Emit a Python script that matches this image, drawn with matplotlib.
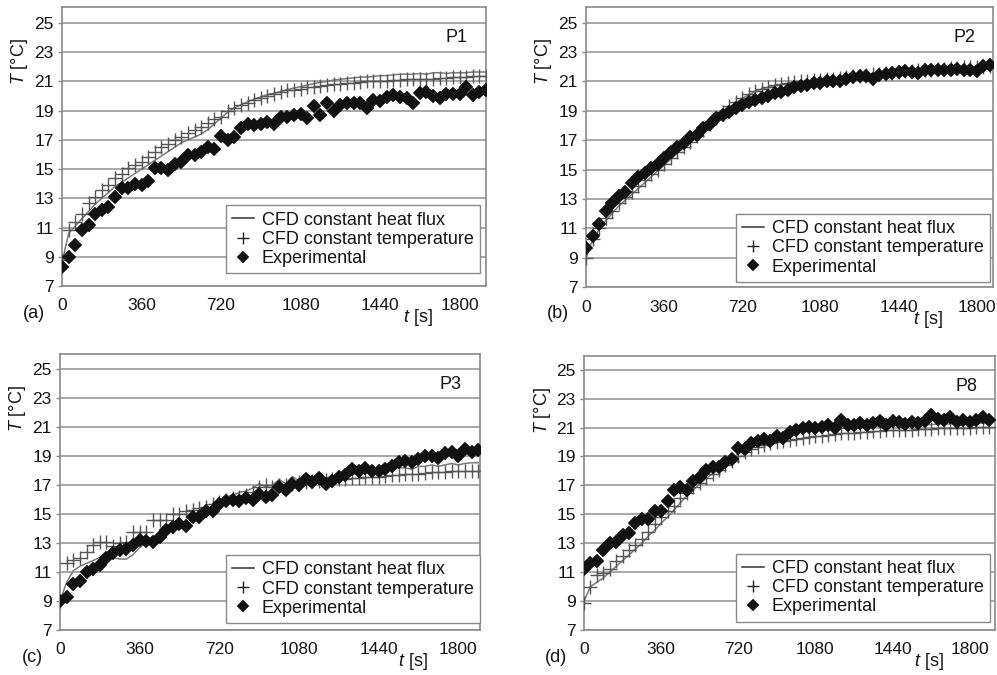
import numpy as np
import matplotlib
matplotlib.use("Agg")
import matplotlib.pyplot as plt

plt.rcParams['font.family'] = ['Liberation Sans', 'DejaVu Sans']
plt.rcParams['mathtext.fontset'] = 'custom'
plt.rcParams['mathtext.it'] = 'Liberation Sans:italic'
plt.rcParams['mathtext.rm'] = 'Liberation Sans'

# ---------------- data (sampled every 30 s) ----------------
dt = 30
x_ticks = [0, 360, 720, 1080, 1440, 1800]
y_ticks = [7, 9, 11, 13, 15, 17, 19, 21, 23, 25]

# P1
p1_flux = [8.6, 10.6, 11.1, 11.6, 12.1, 12.6, 13.0, 13.4, 13.8, 14.1, 14.4, 14.7, 15.0, 15.3, 15.6, 15.9,
           16.2, 16.5, 16.8, 17.0, 17.2, 17.4, 17.7, 18.1, 18.5, 18.9, 19.2, 19.4, 19.6, 19.8, 19.95, 20.1,
           20.2, 20.3, 20.45, 20.55, 20.65, 20.75, 20.85, 20.95, 21.0, 21.1, 21.15, 21.2, 21.25, 21.3, 21.3,
           21.35, 21.4, 21.4, 21.45, 21.5, 21.5, 21.5, 21.55, 21.5, 21.6, 21.6, 21.55, 21.6, 21.6, 21.6,
           21.65, 21.65, 21.65]
p1_temp = [8.8, 10.8, 11.4, 11.9, 12.65, 13.1, 13.6, 13.9, 14.4, 14.7, 15.05, 15.3, 15.5, 15.85, 16.2, 16.5,
           16.7, 17.0, 17.2, 17.45, 17.7, 17.9, 18.15, 18.4, 18.6, 18.95, 19.2, 19.4, 19.55, 19.75, 19.85,
           20.0, 20.15, 20.3, 20.4, 20.45, 20.5, 20.6, 20.65, 20.7, 20.75, 20.8, 20.85, 20.9, 20.9, 20.95,
           21.0, 21.0, 21.05, 21.05, 21.1, 21.1, 21.15, 21.15, 21.2, 21.2, 21.2, 21.25, 21.25, 21.3, 21.3,
           21.3, 21.35, 21.35, 21.35]
p1_exp = [8.3, 9.0, 9.8, 10.8, 11.2, 11.9, 12.2, 12.4, 13.1, 13.7, 13.7, 14.0, 13.9, 14.2, 15.1, 15.05,
          14.95, 15.35, 15.5, 16.0, 15.95, 16.2, 16.5, 16.4, 17.3, 17.0, 17.2, 17.8, 18.1, 18.0, 18.1, 18.25,
          18.1, 18.6, 18.6, 18.7, 18.8, 18.5, 19.3, 18.7, 19.5, 18.95, 19.4, 19.5, 19.5, 19.5, 19.2, 19.75,
          19.65, 19.95, 20.05, 19.95, 19.85, 19.5, 20.2, 20.3, 20.0, 19.85, 20.15, 20.15, 20.15, 20.65,
          20.1, 20.3, 20.4]

# P2
p2_flux = [9.0, 10.2, 10.9, 11.5, 12.0, 12.5, 12.9, 13.3, 13.7, 14.1, 14.5, 14.9, 15.3, 15.7, 16.1, 16.5,
           16.9, 17.3, 17.7, 18.1, 18.5, 18.9, 19.25, 19.55, 19.85, 20.1, 20.3, 20.5, 20.6, 20.7, 20.8,
           20.85, 20.9, 20.95, 21.0, 21.05, 21.1, 21.15, 21.2, 21.25, 21.3, 21.35, 21.4, 21.45, 21.5, 21.5,
           21.55, 21.6, 21.65, 21.65, 21.7, 21.75, 21.75, 21.8, 21.8, 21.85, 21.85, 21.9, 21.9, 21.95,
           21.95, 22.0, 22.0]
p2_temp = [9.0, 10.3, 11.0, 11.7, 12.2, 12.7, 13.1, 13.5, 13.9, 14.3, 14.7, 15.0, 15.4, 15.8, 16.2, 16.55,
           16.9, 17.3, 17.7, 18.1, 18.5, 18.9, 19.3, 19.6, 19.9, 20.15, 20.35, 20.5, 20.65, 20.75, 20.85,
           20.9, 20.95, 21.0, 21.05, 21.1, 21.1, 21.15, 21.2, 21.25, 21.3, 21.35, 21.4, 21.45, 21.5, 21.5,
           21.55, 21.6, 21.65, 21.7, 21.7, 21.75, 21.8, 21.8, 21.85, 21.85, 21.9, 21.9, 21.95, 21.95, 22.0,
           22.0, 22.05]
p2_exp = [9.64, 10.47, 11.3, 12.2, 12.7, 13.2, 13.5, 14.1, 14.5, 14.75, 15.1, 15.4, 15.77, 16.2, 16.55,
          16.8, 17.2, 17.35, 17.8, 18.1, 18.5, 18.7, 18.95, 19.2, 19.4, 19.6, 19.75, 19.85, 20.0, 20.2, 20.3,
          20.45, 20.6, 20.7, 20.75, 20.9, 20.9, 21.0, 21.03, 21.05, 21.15, 21.3, 21.35, 21.4, 21.2, 21.45,
          21.5, 21.6, 21.65, 21.7, 21.65, 21.55, 21.75, 21.75, 21.8, 21.75, 21.8, 21.85, 21.8, 21.8, 21.7,
          22.05, 22.1]

# P3
p3_flux = [9.0, 10.3, 11.1, 11.4, 11.6, 11.8, 12.0, 12.1, 12.0, 11.9, 11.9, 12.2, 12.7, 13.0, 13.3, 13.5,
           13.8, 14.0, 14.1, 14.1, 14.5, 14.9, 15.2, 15.5, 15.8, 16.2, 16.3, 16.5, 16.6, 16.8, 17.1, 16.9,
           17.0, 17.4, 17.1, 17.6, 17.3, 17.6, 17.5, 17.6, 17.5, 17.6, 17.7, 17.6, 17.8, 17.7, 17.9, 17.9,
           18.0, 18.1, 18.0, 18.2, 18.2, 18.1, 18.3, 18.3, 18.4, 18.3, 18.4, 18.5, 18.4, 18.5, 18.55, 18.55]
p3_temp = [9.0, 11.6, 11.8, 12.0, 12.4, 12.9, 13.05, 13.05, 12.8, 13.0, 13.1, 13.8, 13.8, 13.8, 14.6, 14.6,
           14.6, 15.0, 15.0, 15.2, 15.3, 15.4, 15.5, 15.7, 15.85, 16.0, 16.1, 16.2, 16.3, 16.5, 16.9, 17.0,
           16.9, 17.0, 17.0, 17.1, 17.2, 17.2, 17.3, 17.3, 17.35, 17.4, 17.4, 17.45, 17.5, 17.5, 17.55, 17.6,
           17.6, 17.65, 17.7, 17.7, 17.75, 17.8, 17.8, 17.85, 17.9, 17.9, 17.9, 17.95, 17.95, 18.0, 18.0, 18.0]
p3_exp = [9.0, 9.3, 10.2, 10.4, 11.0, 11.2, 11.5, 12.0, 12.3, 12.5, 12.6, 12.9, 13.2, 13.15, 13.1, 13.4,
          13.9, 14.1, 14.3, 14.2, 14.8, 14.8, 15.2, 15.2, 15.7, 15.9, 16.0, 15.9, 16.1, 16.0, 16.4, 16.2,
          16.3, 16.9, 16.7, 17.1, 17.0, 17.4, 17.2, 17.5, 17.1, 17.3, 17.6, 17.7, 18.1, 18.0, 18.2, 18.0,
          18.0, 18.1, 18.3, 18.6, 18.7, 18.6, 18.8, 19.0, 19.0, 18.9, 19.2, 19.3, 19.0, 19.5, 19.3, 19.4]

# P8
p8_flux = [9.0, 10.0, 10.3, 10.6, 11.0, 11.4, 11.8, 12.2, 12.6, 13.0, 13.5, 13.9, 14.4, 14.8, 15.3, 15.8,
           16.3, 16.7, 17.1, 17.5, 17.8, 18.1, 18.4, 18.8, 19.2, 19.5, 19.75, 19.95, 20.1, 20.25, 20.4,
           20.5, 20.6, 20.65, 20.7, 20.75, 20.8, 20.85, 20.9, 20.9, 20.95, 21.0, 21.0, 21.05, 21.05, 21.1,
           21.1, 21.1, 21.15, 21.15, 21.15, 21.2, 21.2, 21.2, 21.2, 21.25, 21.25, 21.25, 21.25, 21.3, 21.3,
           21.3, 21.3, 21.3]
p8_temp = [8.9, 10.0, 10.8, 10.95, 11.2, 11.8, 12.1, 12.5, 12.9, 13.3, 13.8, 14.3, 14.8, 15.2, 15.6, 16.1,
           16.5, 16.9, 17.2, 17.5, 17.8, 18.1, 18.4, 18.7, 19.0, 19.3, 19.5, 19.65, 19.8, 19.9, 20.0, 20.1,
           20.15, 20.2, 20.3, 20.35, 20.4, 20.45, 20.5, 20.55, 20.6, 20.6, 20.65, 20.7, 20.7, 20.75, 20.75,
           20.8, 20.8, 20.85, 20.85, 20.85, 20.9, 20.9, 20.9, 20.95, 20.95, 20.95, 21.0, 21.0, 21.0, 21.05,
           21.05, 21.05]
p8_exp = [11.2, 11.6, 11.8, 12.5, 13.0, 13.1, 13.6, 13.7, 14.4, 14.7, 14.7, 15.2, 15.2, 15.9, 16.7, 16.9,
          16.7, 17.3, 17.6, 18.05, 18.3, 18.3, 18.6, 18.85, 19.6, 19.55, 19.9, 20.1, 20.2, 20.1, 20.4, 20.25,
          20.7, 20.8, 21.0, 21.05, 21.0, 21.05, 21.15, 20.95, 21.55, 21.15, 21.15, 21.3, 21.15, 21.3, 21.45,
          21.15, 21.45, 21.4, 21.25, 21.4, 21.3, 21.45, 21.85, 21.6, 21.55, 21.7, 21.4, 21.5, 21.4, 21.55,
          21.7, 21.5]

panels = [
    dict(name="P1", tag="(a)", flux=p1_flux, temp=p1_temp, exp=p1_exp,
         rect=(62, 7, 486, 286), xmax=1920, ymax=26.1, leg=(0.986, 0.045)),
    dict(name="P2", tag="(b)", flux=p2_flux, temp=p2_temp, exp=p2_exp,
         rect=(586, 7, 993, 287), xmax=1875, ymax=26.07, leg=(0.993, 0.018)),
    dict(name="P3", tag="(c)", flux=p3_flux, temp=p3_temp, exp=p3_exp,
         rect=(60, 354, 480, 630), xmax=1898, ymax=26.06, leg=(1.0, 0.025)),
    dict(name="P8", tag="(d)", flux=p8_flux, temp=p8_temp, exp=p8_exp,
         rect=(584, 356, 995, 630), xmax=1918, ymax=25.95, leg=(0.988, 0.03)),
]

W, H = 997, 675
fig = plt.figure(figsize=(W / 100, H / 100), dpi=100)

grid_c = '#9a9a9a'
frame_c = '#8a8a8a'
txt_c = '#151515'
fs_tick = 12.5
fs_leg = 13


def fx(px):
    return px / W


def fy(py):
    return (H - py) / H


for p in panels:
    x0, y0, x1, y1 = p["rect"]
    ax = fig.add_axes([x0 / W, (H - y1) / H, (x1 - x0) / W, (y1 - y0) / H])
    t_flux = dt * np.arange(len(p["flux"]))
    t_temp = dt * np.arange(len(p["temp"]))
    t_exp = dt * np.arange(len(p["exp"]))
    ax.plot(t_flux, p["flux"], color='#7a7a7a', lw=1.1, label='CFD constant heat flux', zorder=3)
    ax.plot(t_temp, p["temp"], ls='none', marker='+', ms=10, mew=1.0, color='#555555',
            label='CFD constant temperature', zorder=4)
    ax.plot(t_exp, p["exp"], ls='none', marker='D', ms=7.3, color='#111111', mec='#111111', mew=0.3,
            label='Experimental', zorder=5)

    ax.set_xlim(0, p["xmax"])
    ax.set_ylim(7, p["ymax"])
    ax.set_xticks(x_ticks)
    ax.set_yticks(y_ticks)
    ax.yaxis.grid(True, color=grid_c, lw=1.2)
    ax.set_axisbelow(True)
    for s in ax.spines.values():
        s.set_color(frame_c)
        s.set_linewidth(1.2)
    ax.tick_params(axis='both', labelsize=fs_tick, colors=txt_c, length=3, width=1,
                   color=frame_c, pad=3)
    ax.tick_params(axis='x', length=0, pad=9)

    ax.text(0.93, 0.89, p["name"], transform=ax.transAxes, ha='center', va='center',
            fontsize=fs_leg, color=txt_c)

    leg = ax.legend(loc='lower right', bbox_to_anchor=p["leg"], borderaxespad=0,
                    fontsize=fs_leg, frameon=True, fancybox=False, edgecolor=frame_c,
                    handlelength=1.2, handletextpad=0.45, labelspacing=0.12,
                    borderpad=0.35, framealpha=1, markerscale=0.8)
    leg.get_frame().set_linewidth(1.0)
    handles = leg.legend_handles
    handles[0].set_color('#333333')
    handles[1].set_color('#222222')
    for txt in leg.get_texts():
        txt.set_color(txt_c)

    ax_w = x1 - x0
    fig.text(fx(x0 - 28), fy(y1 + 27), p["tag"], fontsize=fs_leg, ha='center', va='center', color=txt_c)
    fig.text(fx(x0 + 0.84 * ax_w), fy(y1 + 32), r'$t$ [s]', fontsize=fs_leg, ha='center', va='center',
             color=txt_c)
    fig.text(fx(x0 - 42), fy(y0 + 55), r'$T$ [°C]', fontsize=fs_leg, ha='center', va='center',
             rotation=90, color=txt_c)

fig.savefig('out.png', dpi=100, facecolor='white')
